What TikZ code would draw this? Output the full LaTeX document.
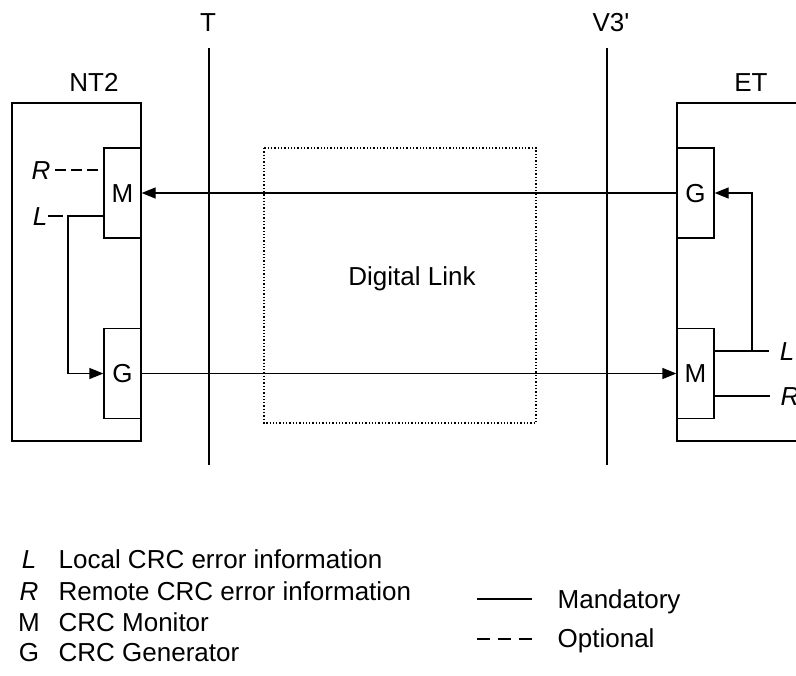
\documentclass[tikz,border=0pt]{standalone}
\usepackage{fontspec}
\setmainfont{Liberation Sans}
\usetikzlibrary{arrows.meta}

\begin{document}
\begin{tikzpicture}[x=0.5pt,y=-0.5pt,line width=0.65pt,
    every node/.style={font=\fontsize{13}{15}\selectfont,inner sep=0pt,
      text height=9.3pt,text depth=0pt},
    crcbox/.style={draw,minimum width=18.5pt,minimum height=45pt},
    sig/.style={-{Triangle[length=7pt,width=5.5pt]}},
    optional/.style={dash pattern=on 5.5pt off 2.5pt}]

  \useasboundingbox (0,0) rectangle (796,675);
  \clip (0,0) rectangle (796,675);

  % reference points
  \node (T) at (208,22) {T};
  \node (V) at (611,22) {V3\textquotesingle};
  \draw (209,48) -- (209,465);
  \draw (607,48) -- (607,465);

  % equipment frames
  \draw (12,103) rectangle (141,441);
  \draw (830,103) -- (677,103) -- (677,441) -- (830,441);
  \node (NT) at (94,82) {NT2};
  \node (ET) at (751,82) {ET};

  % digital link
  \draw[densely dotted] (264,148) rectangle (536,423);
  \node (DL) at (412,276) {Digital Link};

  % monitors and generators
  \node[crcbox] (nt2m) at (122.5,193) {M};
  \node[crcbox] (nt2g) at (122.5,373.5) {G};
  \node[crcbox] (etg) at (695.5,193) {G};
  \node[crcbox] (etm) at (695.5,373.5) {M};

  \draw[sig] (etg.west) -- (nt2m.east);
  \draw[sig] (nt2g.east) -- (etm.west);

  % NT2 side error information
  \node (Rnt) at (41,170) {\textit{R}};
  \node (Lnt) at (40,216) {\textit{L}};
  \coordinate (nt2bend) at (68,216);
  \draw[optional,shorten <=2pt] (Rnt.east) -- (nt2m.west |- Rnt);
  \draw[dash pattern=on 7.5pt off 3pt] (Lnt.east) -- (nt2bend);
  \draw[sig] (nt2m.west |- nt2bend) -- (nt2bend) |- (nt2g.west);

  % ET side error information
  \node (Let) at (787,351) {\textit{L}};
  \node (Ret) at (790,396) {\textit{R}};
  \coordinate (etbend) at (752,351);
  \draw (etm.east |- Let) -- ([xshift=-5pt]Let.west);
  \draw (etm.east |- Ret) -- ([xshift=-5pt]Ret.west);
  \draw[sig] (etbend) |- (etg.east);

  % legend
  \foreach \sym/\txt/\yy [count=\i] in {\textit{L}/Local CRC error information/559,
      \textit{R}/Remote CRC error information/591,
      M/CRC Monitor/622, G/CRC Generator/652} {
    \node (sym\i) at (29,\yy) {\sym};
    \node[anchor=west] (leg\i) at (58,\yy) {\txt};
  }
  \node[anchor=west] (mand) at (557,599) {Mandatory};
  \node[anchor=west] (opt) at (557,638) {Optional};
  \draw (477,599) -- (532,599);
  \draw[dash pattern=on 6.5pt off 4pt] (477,639) -- (532,639);
\end{tikzpicture}
\end{document}
